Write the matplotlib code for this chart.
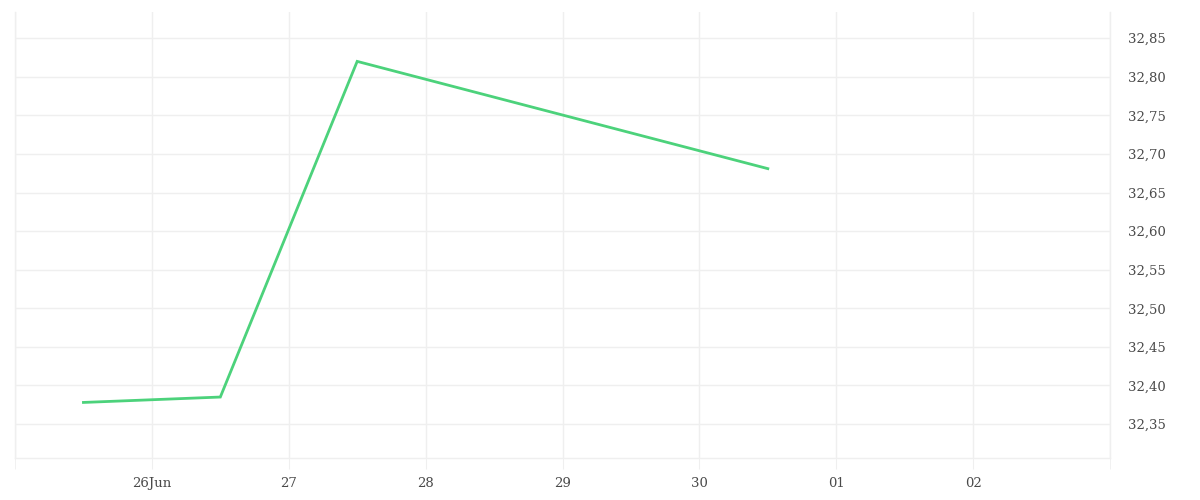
import matplotlib
matplotlib.use("Agg")
import matplotlib.pyplot as plt
import matplotlib.dates as mdates
import numpy as np
from datetime import datetime

dates = ["2023-06-25 12:00", "2023-06-26 12:00", "2023-06-27 12:00", "2023-06-30 12:00"]
values = [32.378, 32.385, 32.820, 32.681]
xtick_dates = ["2023-06-26", "2023-06-27", "2023-06-28", "2023-06-29", "2023-06-30", "2023-07-01", "2023-07-02"]
xtick_labels = ["26Jun", "27", "28", "29", "30", "01", "02"]
ytick_values = [32.35, 32.40, 32.45, 32.50, 32.55, 32.60, 32.65, 32.70, 32.75, 32.80, 32.85]

x = [datetime.strptime(d, "%Y-%m-%d %H:%M") for d in dates]
xt = [datetime.strptime(d, "%Y-%m-%d") for d in xtick_dates]

plt.rcParams['font.family'] = ['DejaVu Serif']

fig = plt.figure(figsize=(12, 5), dpi=100)
ax = fig.add_axes([15/1200, 1 - 458/500, (1110 - 15)/1200, (458 - 12)/500])

grid_c = "#efefef"
ax.plot(x, values, color="#4cd27b", lw=2.0, solid_joinstyle="miter", zorder=3)

ax.set_xlim(datetime(2023, 6, 25), datetime(2023, 7, 3))
ax.set_ylim(32.306, 32.884)

ax.set_xticks(xt)
ax.set_xticklabels(xtick_labels)
ax.xaxis.set_minor_locator(mdates.DayLocator())
ax.set_yticks(ytick_values)
ax.set_yticklabels([f"{v:.2f}".replace(".", ",") for v in ytick_values])

ax.yaxis.tick_right()
ax.grid(True, which="major", color=grid_c, lw=1)
ax.grid(True, which="minor", axis="x", color=grid_c, lw=1)

ax.spines["top"].set_visible(False)
for s in ["left", "right", "bottom"]:
    ax.spines[s].set_color(grid_c)
    ax.spines[s].set_linewidth(1)

ax.tick_params(axis="x", which="both", length=8, color=grid_c, labelsize=9.5, labelcolor="#4a4a4a", pad=6)
ax.tick_params(axis="y", which="both", length=0, labelsize=9.5, labelcolor="#4a4a4a", pad=13)

fig.savefig("out.png", dpi=100, facecolor="white")
